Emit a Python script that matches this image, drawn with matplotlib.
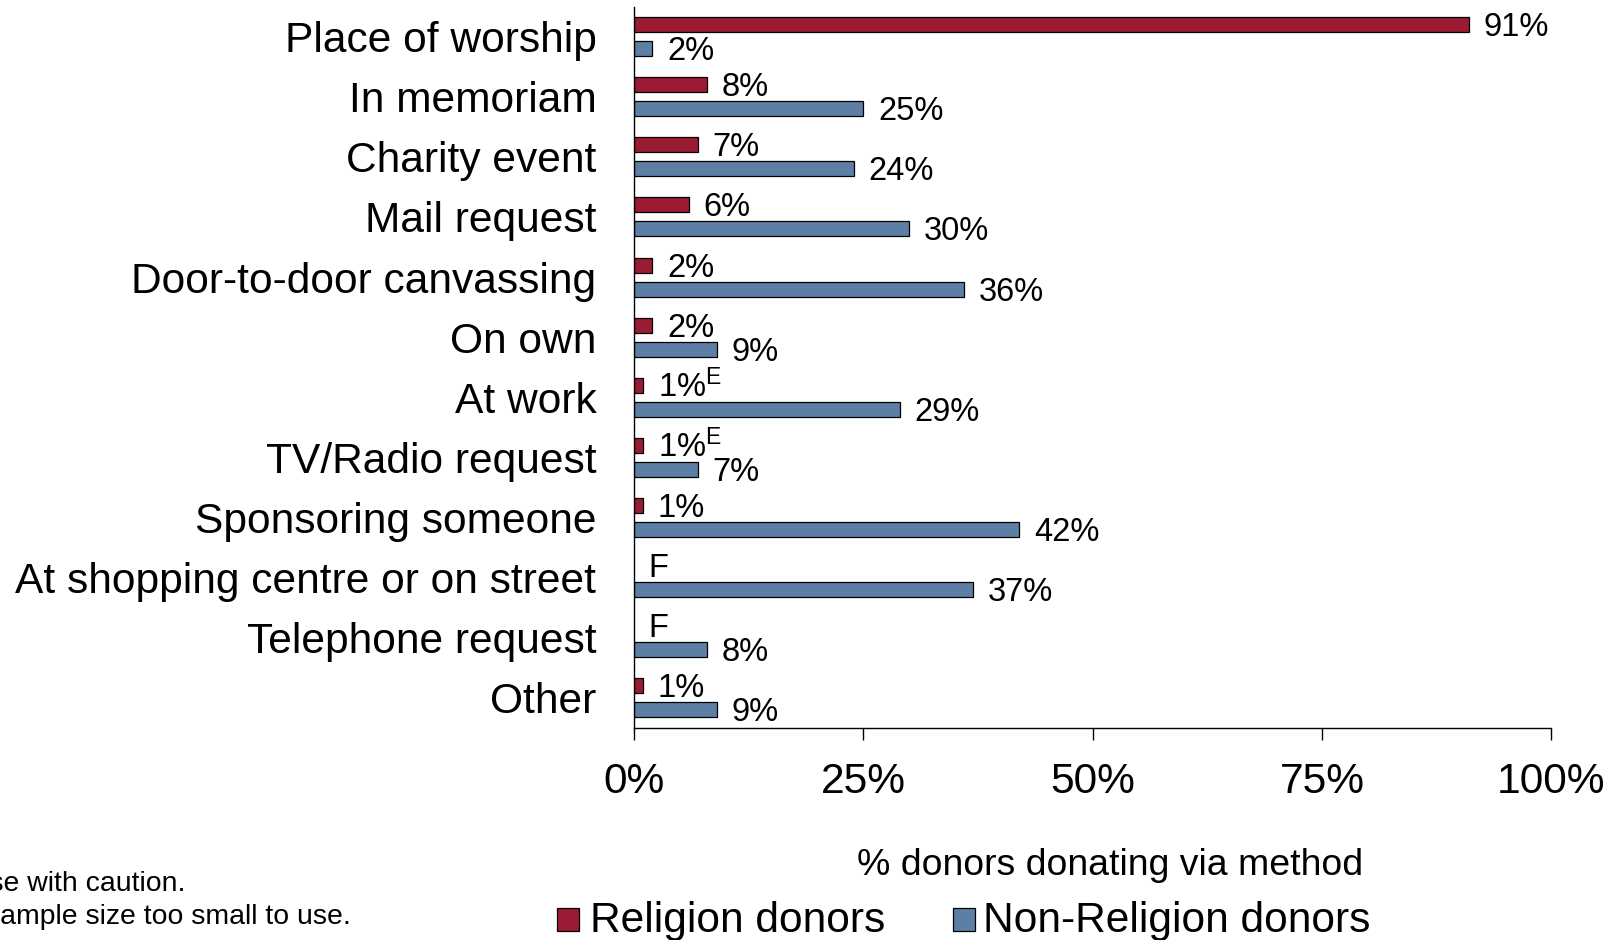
import matplotlib
matplotlib.use("Agg")
import matplotlib.pyplot as plt
from matplotlib.patches import Rectangle

plt.rcParams['font.family'] = ['Liberation Sans', 'DejaVu Sans']
plt.rcParams['mathtext.fontset'] = 'custom'
plt.rcParams['mathtext.rm'] = 'Liberation Sans'
plt.rcParams['mathtext.it'] = 'Liberation Sans:italic'
plt.rcParams['mathtext.bf'] = 'Liberation Sans:bold'

categories = ["Place of worship", "In memoriam", "Charity event", "Mail request",
              "Door-to-door canvassing", "On own", "At work", "TV/Radio request",
              "Sponsoring someone", "At shopping centre or on street",
              "Telephone request", "Other"]
religion = [91, 8, 7, 6, 2, 2, 1, 1, 1, None, None, 1]
religion_flags = ["", "", "", "", "", "", "E", "E", "", "F", "F", ""]
non_religion = [2, 25, 24, 30, 36, 9, 29, 7, 42, 37, 8, 9]
xticks = [0, 25, 50, 75, 100]
series_names = ["Religion donors", "Non-Religion donors"]
notes = ["E Use with caution.", "F Sample size too small to use."]
xlabel = "% donors donating via method"

RED = "#9C1B34"
BLUE = "#5D7FA6"

W, H = 1624, 940
fig = plt.figure(figsize=(W / 100, H / 100), dpi=100)
ax = fig.add_axes([634 / W, 1 - 728 / H, (1551.5 - 634) / W, (728 - 6.5) / H])

ypos = list(range(len(categories)))
off, bh = 0.2, 0.25
rel_vals = [v if v is not None else 0 for v in religion]
for i, v in enumerate(religion):
    if v is not None:
        ax.barh(i - off, v, height=bh, color=RED, edgecolor="black", linewidth=0.9, zorder=2)
ax.barh([y + off for y in ypos], non_religion, height=bh, color=BLUE,
        edgecolor="black", linewidth=0.9, zorder=2)

lab_fs = 23.5
dy = -8.3
for i, (v, f) in enumerate(zip(religion, religion_flags)):
    if f == "F":
        txt = "F"
    elif f:
        txt = f"{v}%" + r"$^{\mathrm{" + f + r"}}$"
    else:
        txt = f"{v}%"
    ax.annotate(txt, (rel_vals[i], i - off), xytext=(10.5, dy), textcoords="offset points",
                ha="left", va="baseline", fontsize=lab_fs, color="black")
for i, v in enumerate(non_religion):
    ax.annotate(f"{v}%", (v, i + off), xytext=(10.5, dy), textcoords="offset points",
                ha="left", va="baseline", fontsize=lab_fs, color="black")

ax.set_xlim(0, 100)
ax.set_ylim(len(categories) - 0.5, -0.5)
ax.set_xticks(xticks)
ax.set_xticklabels([f"{t}%" for t in xticks], fontsize=30.6)
ax.set_yticks(ypos)
ax.set_yticklabels(categories, fontsize=30.6)
ax.tick_params(axis="y", length=0, pad=27)
ax.tick_params(axis="x", length=8.6, width=1.0, direction="out", pad=16.2)
for s in ["top", "right"]:
    ax.spines[s].set_visible(False)
for s in ["left", "bottom"]:
    ax.spines[s].set_linewidth(1.0)
ax.spines["left"].set_bounds(len(categories) - 0.5, -0.5)

fig.text(857 / W, 1 - 875 / H, xlabel, ha="left", va="baseline", fontsize=26.9)

# footnotes (clipped at left edge as in the original)
fig.text(186 / W, 1 - 890.7 / H, notes[0], ha="right", va="baseline", fontsize=20.4)
fig.text(351 / W, 1 - 924 / H, notes[1], ha="right", va="baseline", fontsize=20.4)

# legend
for (x0, x1, tx), name, col in zip([(556.7, 579.3, 589.5), (952.7, 975, 983.5)],
                                   series_names, [RED, BLUE]):
    fig.add_artist(Rectangle((x0 / W, 1 - 930.5 / H), (x1 - x0) / W, 22.3 / H,
                             transform=fig.transFigure, facecolor=col,
                             edgecolor="black", linewidth=0.9))
    fig.text(tx / W, 1 - 932.3 / H, name, ha="left", va="baseline", fontsize=30.6)

fig.savefig("out.png", dpi=100)
